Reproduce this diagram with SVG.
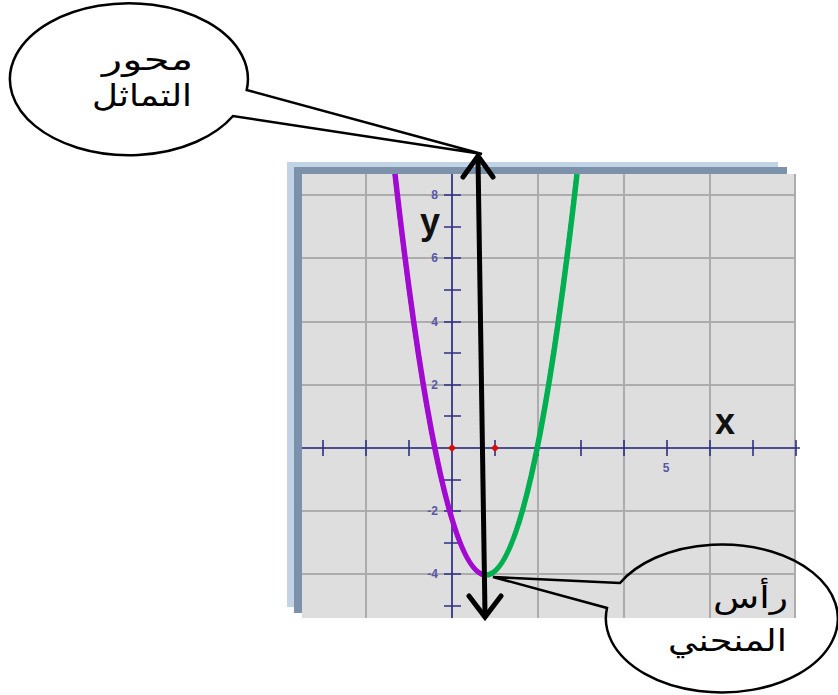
<svg xmlns="http://www.w3.org/2000/svg" width="838" height="695" viewBox="0 0 838 695">
<style>
.grid{stroke:#acacac;stroke-width:2;fill:none}
.axis{stroke:#2e2e86;stroke-width:1.6;fill:none}
.num{font-family:"Liberation Sans",Arial,sans-serif;font-size:12px;font-weight:bold;fill:#5858a6}
.big{font-family:"Liberation Sans",Arial,sans-serif;font-size:36px;font-weight:bold;fill:#111}
.call{fill:none;stroke:#000;stroke-width:2.5;stroke-linejoin:miter}
.ar{font-family:"DejaVu Sans",sans-serif;font-size:30px;fill:#000}
</style>
<rect width="838" height="695" fill="#fff"/>
<g id="graph">
<rect x="287" y="162" width="491" height="445" fill="#c3d3e6"/>
<rect x="294" y="167" width="493" height="446" fill="#7c91aa"/>
<rect x="302" y="174" width="494" height="444" fill="#dedede"/>
<g class="grid">
<path d="M366 174V618M452 174V618M538 174V618M624 174V618M710 174V618M795 174V618"/>
<path d="M302 195H796M302 258H796M302 322H796M302 385H796M302 448H796M302 511H796M302 574H796"/>
</g>
<g class="axis">
<path d="M452 174V618M302 448H800"/>
<path d="M323 440V456M366 440V456M409 440V456M495 440V456M538 440V456M581 440V456M624 440V456M667 440V456M710 440V456M753 440V456M796 440V456"/>
<path d="M444 195H461M444 227H461M444 258H461M444 290H461M444 322H461M444 353H461M444 385H461M444 416H461M444 480H461M444 511H461M444 543H461M444 574H461M444 606H461"/>
</g>
<text class="num" x="438" y="199" text-anchor="end">8</text>
<text class="num" x="438" y="262" text-anchor="end">6</text>
<text class="num" x="438" y="326" text-anchor="end">4</text>
<text class="num" x="438" y="389" text-anchor="end">2</text>
<text class="num" x="438" y="515" text-anchor="end">-2</text>
<text class="num" x="438" y="578" text-anchor="end">-4</text>
<text class="num" x="666" y="472" text-anchor="middle">5</text>
<text class="big" x="430" y="234" text-anchor="middle">y</text>
<text class="big" x="725" y="434" text-anchor="middle">x</text>
<path d="M452 444L456 448L452 452L448 448Z M495 444L499 448L495 452L491 448Z" fill="#d01010"/>
<path d="M393.5 174Q484.5 976 575.5 174" fill="none" stroke="#1a1a80" stroke-width="1.6"/>
<path d="M395 174Q440.5 575 486 575" fill="none" stroke="#a20ad2" stroke-width="5.5"/>
<path d="M486 575Q531.5 575 577 174" fill="none" stroke="#00b050" stroke-width="5.5"/>
</g>
<g id="connectors">
<path d="M478 158L485 614" stroke="#000" stroke-width="5" fill="none"/>
<path d="M463 177L478 156L493 177M469 596L485 617L501 596" stroke="#000" stroke-width="5" fill="none" stroke-linecap="round" stroke-linejoin="miter"/>
</g>
<g id="callout-axis">
<path class="call" d="M246.7 90L482 154L233 116A119 76 0 1 1 246.7 90Z"/>
<text class="ar" x="102" y="70" textLength="91" lengthAdjust="spacingAndGlyphs">محور</text>
<text class="ar" x="92" y="106" textLength="100" lengthAdjust="spacingAndGlyphs">التماثل</text>
</g>
<g id="callout-vertex">
<path class="call" d="M620 583L493 577L607 608A116 74 0 1 0 620 583Z"/>
<text class="ar" x="713" y="608" textLength="75" lengthAdjust="spacingAndGlyphs">رأس</text>
<text class="ar" x="668" y="651" textLength="119" lengthAdjust="spacingAndGlyphs">المنحني</text>
</g>
</svg>
